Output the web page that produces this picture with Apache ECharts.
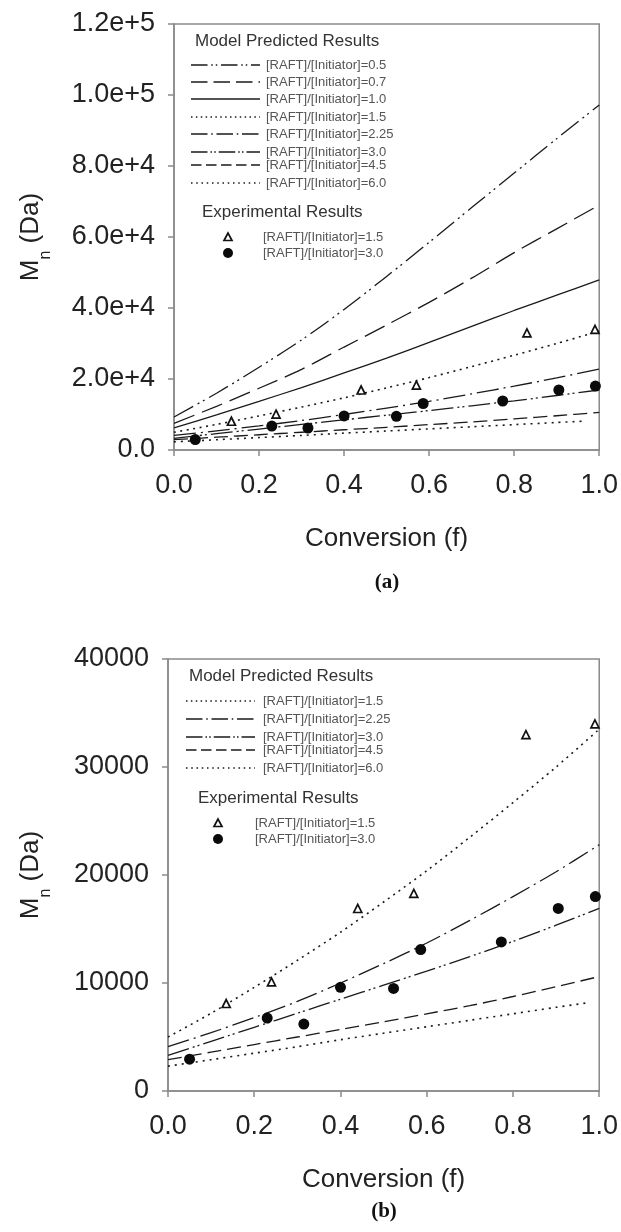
<!DOCTYPE html>
<html>
<head>
<meta charset="utf-8">
<script src="https://cdn.jsdelivr.net/npm/echarts/dist/echarts.min.js"></script>
<style>
html,body{margin:0;padding:0;background:#fff;}
#c{width:621px;height:1232px;}
</style>
</head>
<body>
<div id="c"></div>
<script>
// ---- data ----
const fModel = [0, 0.1, 0.2, 0.3, 0.4, 0.5, 0.6, 0.7, 0.8, 0.9, 1.0];
const fModel60 = [0, 0.1, 0.2, 0.3, 0.4, 0.5, 0.6, 0.7, 0.8, 0.9, 0.97];
const mn_0_5  = [9300, 16000, 23300, 31000, 39600, 48900, 58500, 68300, 78000, 87700, 97200];
const mn_0_7  = [7500, 12300, 17400, 22700, 29000, 35200, 41600, 48400, 55600, 62300, 69000];
const mn_1_0  = [6200, 9900, 13700, 17600, 21700, 25900, 30300, 34800, 39300, 43600, 47900];
const mn_1_5  = [5000, 7200, 9600, 12100, 14700, 17500, 20400, 23500, 26700, 30000, 33500];
const mn_2_25 = [4100, 5400, 6800, 8300, 10000, 11800, 13700, 15800, 18000, 20300, 22800];
const mn_3_0  = [3300, 4600, 5900, 7200, 8500, 9800, 11100, 12450, 13850, 15350, 16900];
const mn_4_5  = [2900, 3600, 4300, 5000, 5700, 6400, 7150, 7900, 8750, 9650, 10600];
const mn_6_0  = [2300, 2900, 3500, 4100, 4750, 5350, 5950, 6550, 7150, 7750, 8150];

const expF_1_5  = [0.135, 0.24, 0.44, 0.57, 0.83, 0.99];
const expMn_1_5 = [8100, 10100, 16900, 18300, 33000, 34000];
const expF_3_0  = [0.05, 0.23, 0.315, 0.40, 0.523, 0.586, 0.773, 0.905, 0.991];
const expMn_3_0 = [2950, 6750, 6200, 9600, 9500, 13100, 13800, 16900, 18000];

const ratiosA = ['0.5', '0.7', '1.0', '1.5', '2.25', '3.0', '4.5', '6.0'];
const ratiosB = ['1.5', '2.25', '3.0', '4.5', '6.0'];
const xTicks = [0, 0.2, 0.4, 0.6, 0.8, 1.0];
const yTicksA = [0, 20000, 40000, 60000, 80000, 100000, 120000];
const yTicksB = [0, 10000, 20000, 30000, 40000];

// ---- styles ----
const FONT = "'Liberation Sans', Arial, sans-serif";
const AX = '#8a8a8a';
const LC = '#1a1a1a';
const modelMap = {
  '0.5':  {f: fModel,   v: mn_0_5,  dash: [22, 5, 2, 4, 2, 5], w: 1.3},
  '0.7':  {f: fModel,   v: mn_0_7,  dash: [22, 8], w: 1.3},
  '1.0':  {f: fModel,   v: mn_1_0,  dash: 'solid', w: 1.3},
  '1.5':  {f: fModel,   v: mn_1_5,  dash: [2, 4.5], w: 1.6},
  '2.25': {f: fModel,   v: mn_2_25, dash: [22, 5, 2, 5], w: 1.3},
  '3.0':  {f: fModel,   v: mn_3_0,  dash: [22, 4, 2, 3, 2, 4], w: 1.3},
  '4.5':  {f: fModel,   v: mn_4_5,  dash: [14, 6], w: 1.3},
  '6.0':  {f: fModel60, v: mn_6_0,  dash: [2, 5], w: 1.6}
};
const lbl = r => '[RAFT]/[Initiator]=' + r;
const pairs = (xs, ys) => xs.map((x, i) => [x, ys[i]]);

const grids = [
  {left: 174, top: 24, width: 426, height: 426},
  {left: 168, top: 659, width: 432, height: 432}
];

function xAxisFor(i) {
  return {
    type: 'value', gridIndex: i, min: 0, max: 1, interval: 0.2,
    name: 'Conversion (f)', nameLocation: 'middle', nameGap: 76,
    nameTextStyle: {fontFamily: FONT, fontSize: 26, color: '#222'},
    axisLine: {show: true, onZero: false, lineStyle: {color: AX, width: 1.5}},
    axisTick: {show: true, length: 6, lineStyle: {color: AX, width: 1.5}},
    axisLabel: {margin: 22, fontFamily: FONT, fontSize: 27, color: '#222',
      formatter: v => v.toFixed(1)},
    splitLine: {show: false}
  };
}
function yAxisFor(i) {
  const isA = i === 0;
  return {
    type: 'value', gridIndex: i, min: 0,
    max: isA ? yTicksA[yTicksA.length - 1] : yTicksB[yTicksB.length - 1],
    interval: isA ? yTicksA[1] - yTicksA[0] : yTicksB[1] - yTicksB[0],
    name: '{m|M}{s|n}{m| (Da)}', nameLocation: 'middle', nameGap: isA ? 130 : 124,
    nameTextStyle: {rich: {
      m: {fontFamily: FONT, fontSize: 26, color: '#222'},
      s: {fontFamily: FONT, fontSize: 16, color: '#222', verticalAlign: 'bottom', padding: [0, 0, -10, 0]}
    }},
    axisLine: {show: true, lineStyle: {color: AX, width: 1.5}},
    axisTick: {show: true, length: 6, lineStyle: {color: AX, width: 1.5}},
    axisLabel: {margin: 19, fontFamily: FONT, fontSize: 27, color: '#222',
      formatter: v => isA ? (v === 0 ? '0.0' : v.toExponential(1)) : String(v)},
    splitLine: {show: false}
  };
}

const series = [];
[ratiosA, ratiosB].forEach((list, gi) => {
  list.forEach(r => {
    const m = modelMap[r];
    series.push({
      type: 'line', name: 'Model ' + lbl(r), xAxisIndex: gi, yAxisIndex: gi,
      data: pairs(m.f, m.v), showSymbol: false, smooth: 0.3, silent: true,
      lineStyle: {color: LC, width: m.w, type: m.dash}, z: 2
    });
  });
  series.push({
    type: 'scatter', name: 'Exp ' + lbl('1.5'), xAxisIndex: gi, yAxisIndex: gi,
    data: pairs(expF_1_5, expMn_1_5), symbol: 'triangle', symbolSize: 8,
    itemStyle: {color: '#fff', borderColor: '#111', borderWidth: 1.7, opacity: 1}, z: 5
  });
  series.push({
    type: 'scatter', name: 'Exp ' + lbl('3.0'), xAxisIndex: gi, yAxisIndex: gi,
    data: pairs(expF_3_0, expMn_3_0), symbol: 'circle', symbolSize: 11,
    itemStyle: {color: '#0a0a0a', opacity: 1}, z: 5
  });
});

// ---- legend drawn as graphic ----
const graphic = [];
function legendBlock(list, cfg) {
  graphic.push({type: 'text', left: cfg.titleX, top: cfg.titleY - 10,
    style: {text: 'Model Predicted Results', font: '17px ' + FONT, fill: '#333'}});
  list.forEach((r, i) => {
    const y = cfg.rows[i];
    const m = modelMap[r];
    graphic.push({type: 'line', shape: {x1: cfg.lx1, y1: y, x2: cfg.lx2, y2: y},
      style: {stroke: LC, lineWidth: m.w, lineDash: m.dash === 'solid' ? null : m.dash.map(d => d * 0.75)}});
    graphic.push({type: 'text', x: cfg.tx, y: y, style: {text: lbl(r), font: '13px ' + FONT,
      fill: '#555', verticalAlign: 'middle'}});
  });
  graphic.push({type: 'text', left: cfg.expTitleX, top: cfg.expTitleY - 10,
    style: {text: 'Experimental Results', font: '17px ' + FONT, fill: '#333'}});
  const ty = cfg.expRows[0], cy = cfg.expRows[1];
  graphic.push({type: 'polygon', shape: {points: [[cfg.mx, ty - 4], [cfg.mx - 4, ty + 3.5], [cfg.mx + 4, ty + 3.5]]},
    style: {fill: '#fff', stroke: '#111', lineWidth: 1.7}});
  graphic.push({type: 'text', x: cfg.etx, y: ty, style: {text: lbl('1.5'), font: '13px ' + FONT, fill: '#555', verticalAlign: 'middle'}});
  graphic.push({type: 'circle', shape: {cx: cfg.mx, cy: cy, r: 5}, style: {fill: '#0a0a0a'}});
  graphic.push({type: 'text', x: cfg.etx, y: cy, style: {text: lbl('3.0'), font: '13px ' + FONT, fill: '#555', verticalAlign: 'middle'}});
}
legendBlock(ratiosA, {titleX: 195, titleY: 43, rows: [65, 82, 99, 117, 134, 152, 165, 183],
  lx1: 191, lx2: 260, tx: 266, expTitleX: 202, expTitleY: 214, expRows: [237, 253], mx: 228, etx: 263});
legendBlock(ratiosB, {titleX: 189, titleY: 678, rows: [701, 719, 737, 750, 768],
  lx1: 186, lx2: 255, tx: 263, expTitleX: 198, expTitleY: 800, expRows: [823, 839], mx: 218, etx: 255});

graphic.push({type: 'text', x: 387, y: 583, style: {text: '(a)', font: 'bold 21px "Liberation Serif", serif',
  fill: '#111', align: 'center', verticalAlign: 'middle'}});
graphic.push({type: 'text', x: 384, y: 1212, style: {text: '(b)', font: 'bold 21px "Liberation Serif", serif',
  fill: '#111', align: 'center', verticalAlign: 'middle'}});

const chart = echarts.init(document.getElementById('c'), null, {renderer: 'canvas'});
chart.setOption({
  animation: false,
  backgroundColor: '#fff',
  grid: grids.map(g => Object.assign({show: true, borderColor: AX, borderWidth: 1.5, backgroundColor: 'transparent'}, g)),
  xAxis: [xAxisFor(0), xAxisFor(1)],
  yAxis: [yAxisFor(0), yAxisFor(1)],
  series: series,
  graphic: graphic
});
</script>
</body>
</html>
